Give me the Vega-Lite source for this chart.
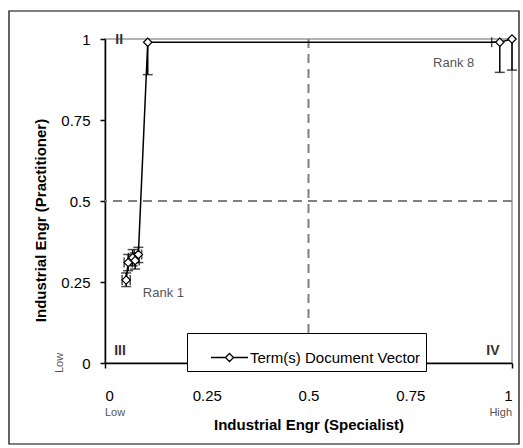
{
  "$schema": "https://vega.github.io/schema/vega-lite/v6.json",
  "width": 407,
  "height": 324,
  "autosize": "none",
  "padding": {"left": 105, "top": 39, "right": 11, "bottom": 85},
  "background": "white",
  "config": {
    "view": {"stroke": "#999999", "strokeWidth": 1.5},
    "font": "Liberation Sans",
    "axis": {"grid": false, "domainColor": "black", "domainWidth": 1.5, "tickColor": "black", "tickWidth": 1.5, "tickSize": 5, "labelColor": "black", "labelFont": "Liberation Sans", "labelFontSize": 15, "titleFont": "Liberation Sans", "titleFontWeight": "bold", "titleFontSize": 15, "titleColor": "black"}
  },
  "datasets": {
    "pts": [
      {"rank": 1, "x": 0.052, "y": 0.256, "ylo": 0.236, "yhi": 0.278, "xlo": 0.042, "xhi": 0.062},
      {"rank": 2, "x": 0.057, "y": 0.31, "ylo": 0.285, "yhi": 0.335, "xlo": 0.047, "xhi": 0.067},
      {"rank": 3, "x": 0.068, "y": 0.325, "ylo": 0.3, "yhi": 0.35, "xlo": 0.058, "xhi": 0.078},
      {"rank": 4, "x": 0.074, "y": 0.316, "ylo": 0.29, "yhi": 0.34, "xlo": 0.064, "xhi": 0.084},
      {"rank": 5, "x": 0.082, "y": 0.335, "ylo": 0.31, "yhi": 0.357, "xlo": 0.072, "xhi": 0.09},
      {"rank": 6, "x": 0.105, "y": 0.99, "ylo": 0.89, "yhi": null, "xlo": null, "xhi": null},
      {"rank": 7, "x": 0.97, "y": 0.99, "ylo": 0.897, "yhi": null, "xlo": 0.95, "xhi": 0.97},
      {"rank": 8, "x": 1.0, "y": 1.0, "ylo": 0.904, "yhi": null, "xlo": null, "xhi": null}
    ],
    "labels": [
      {"t": "Rank 1", "x": 0.093, "y": 0.216, "kind": "rank"},
      {"t": "Rank 8", "x": 0.806, "y": 0.927, "kind": "rank"}
    ],
    "quads": [
      {"t": "II", "x": 0.035, "y": 0.997},
      {"t": "III", "x": 0.037, "y": 0.037},
      {"t": "IV", "x": 0.953, "y": 0.037}
    ]
  },
  "layer": [
    {
      "data": {"values": [{}]},
      "mark": {"type": "rect", "fill": null, "stroke": "black", "strokeWidth": 1.2, "clip": false},
      "encoding": {
        "x": {"datum": -0.2359, "type": "quantitative", "scale": {"domain": [0, 1], "nice": false, "zero": false},
          "axis": {"values": [0, 0.25, 0.5, 0.75, 1], "labelExpr": "'' + datum.value", "labelPadding": 20, "title": "Industrial Engr (Specialist)", "titlePadding": 14}},
        "x2": {"datum": 1.0172},
        "y": {"datum": 1.0864, "type": "quantitative", "scale": {"domain": [0, 1], "nice": false, "zero": false},
          "axis": {"values": [0, 0.25, 0.5, 0.75, 1], "labelExpr": "'' + datum.value", "labelPadding": 10, "title": "Industrial Engr (Practitioner)", "titleX": -65, "titleY": 181, "titleAngle": 270, "titleBaseline": "middle", "titleAlign": "center"}},
        "y2": {"datum": -0.25}
      }
    },
    {
      "data": {"values": [{"v": 0.5}]},
      "mark": {"type": "rule", "color": "#808080", "strokeWidth": 2, "strokeDash": [9, 6]},
      "encoding": {"x": {"field": "v", "type": "quantitative"}}
    },
    {
      "data": {"values": [{"v": 0.5}]},
      "mark": {"type": "rule", "color": "#808080", "strokeWidth": 2, "strokeDash": [9, 6]},
      "encoding": {"y": {"field": "v", "type": "quantitative"}}
    },
    {
      "data": {"name": "pts"},
      "transform": [{"calculate": "datum.yhi == null ? datum.y : datum.yhi", "as": "ytop"}],
      "mark": {"type": "rule", "color": "black", "strokeWidth": 1.5},
      "encoding": {"x": {"field": "x", "type": "quantitative"}, "y": {"field": "ylo", "type": "quantitative"}, "y2": {"field": "ytop"}}
    },
    {
      "data": {"name": "pts"},
      "mark": {"type": "tick", "color": "black", "orient": "horizontal", "size": 10, "thickness": 1.5},
      "encoding": {"x": {"field": "x", "type": "quantitative"}, "y": {"field": "ylo", "type": "quantitative"}}
    },
    {
      "data": {"name": "pts"},
      "transform": [{"filter": "datum.yhi != null"}],
      "mark": {"type": "tick", "color": "black", "orient": "horizontal", "size": 10, "thickness": 1.5},
      "encoding": {"x": {"field": "x", "type": "quantitative"}, "y": {"field": "yhi", "type": "quantitative"}}
    },
    {
      "data": {"name": "pts"},
      "transform": [{"filter": "datum.xlo != null"}],
      "mark": {"type": "rule", "color": "black", "strokeWidth": 1.5},
      "encoding": {"x": {"field": "xlo", "type": "quantitative"}, "x2": {"field": "xhi"}, "y": {"field": "y", "type": "quantitative"}}
    },
    {
      "data": {"name": "pts"},
      "transform": [{"filter": "datum.xlo != null"}],
      "mark": {"type": "tick", "color": "black", "orient": "vertical", "size": 10, "thickness": 1.5},
      "encoding": {"x": {"field": "xlo", "type": "quantitative"}, "y": {"field": "y", "type": "quantitative"}}
    },
    {
      "data": {"name": "pts"},
      "transform": [{"filter": "datum.xlo != null && datum.rank < 6"}],
      "mark": {"type": "tick", "color": "black", "orient": "vertical", "size": 10, "thickness": 1.5},
      "encoding": {"x": {"field": "xhi", "type": "quantitative"}, "y": {"field": "y", "type": "quantitative"}}
    },
    {
      "data": {"name": "pts"},
      "mark": {"type": "line", "color": "black", "strokeWidth": 1.5},
      "encoding": {"x": {"field": "x", "type": "quantitative"}, "y": {"field": "y", "type": "quantitative"}, "order": {"field": "rank"}}
    },
    {
      "data": {"name": "pts"},
      "mark": {"type": "point", "shape": "diamond", "filled": true, "fill": "white", "strokeWidth": 1.2, "size": 70, "opacity": 1},
      "encoding": {
        "x": {"field": "x", "type": "quantitative"},
        "y": {"field": "y", "type": "quantitative"},
        "stroke": {"datum": "Term(s) Document Vector", "type": "nominal", "scale": {"range": ["black"]},
          "legend": {"title": null, "orient": "none", "legendX": 82, "legendY": 294, "direction": "horizontal", "strokeColor": "black", "fillColor": "white", "padding": 5, "symbolOffset": 18, "symbolType": "M-1,0H-0.22M0.22,0H1M0,-0.22L0.22,0L0,0.22L-0.22,0Z", "symbolSize": 1369, "symbolStrokeWidth": 1.3, "symbolFillColor": "white", "symbolStrokeColor": "black", "labelFont": "Liberation Sans", "labelFontSize": 15, "labelColor": "black", "labelOffset": 1, "labelLimit": 300}}
      }
    },
    {
      "data": {"name": "labels"},
      "mark": {"type": "text", "align": "left", "baseline": "middle", "fontSize": 13, "color": "#555555", "font": "Liberation Sans"},
      "encoding": {"x": {"field": "x", "type": "quantitative"}, "y": {"field": "y", "type": "quantitative"}, "text": {"field": "t"}}
    },
    {
      "data": {"name": "quads"},
      "mark": {"type": "text", "align": "center", "baseline": "middle", "fontSize": 14, "fontWeight": "bold", "color": "#333333", "font": "Liberation Sans"},
      "encoding": {"x": {"field": "x", "type": "quantitative"}, "y": {"field": "y", "type": "quantitative"}, "text": {"field": "t"}}
    },
    {
      "data": {"values": [{"t": "Low", "x": 0.0, "y": -0.154, "a": "left"}]},
      "mark": {"type": "text", "align": "left", "baseline": "middle", "fontSize": 11, "color": "#555555", "clip": false},
      "encoding": {"x": {"field": "x", "type": "quantitative"}, "y": {"field": "y", "type": "quantitative"}, "text": {"field": "t"}}
    },
    {
      "data": {"values": [{"t": "High", "x": 1.0, "y": -0.154}]},
      "mark": {"type": "text", "align": "right", "baseline": "middle", "fontSize": 11, "color": "#555555", "clip": false},
      "encoding": {"x": {"field": "x", "type": "quantitative"}, "y": {"field": "y", "type": "quantitative"}, "text": {"field": "t"}}
    },
    {
      "data": {"values": [{"t": "Low", "x": -0.11, "y": 0.0}]},
      "mark": {"type": "text", "align": "center", "baseline": "middle", "fontSize": 11, "color": "#555555", "angle": 270, "clip": false},
      "encoding": {"x": {"field": "x", "type": "quantitative"}, "y": {"field": "y", "type": "quantitative"}, "text": {"field": "t"}}
    }
  ]
}
